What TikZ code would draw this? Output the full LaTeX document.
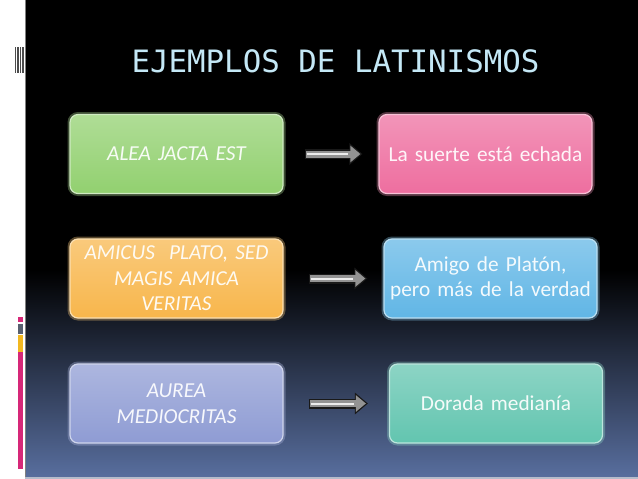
\documentclass[tikz,border=0pt]{standalone}
\usepackage{fontspec}
\setmainfont{Carlito}
\newfontfamily\monof{DejaVu Sans Mono}
\usetikzlibrary{arrows.meta}
\definecolor{cgreen}{RGB}{122,198,80}
\definecolor{cpink}{RGB}{234,78,138}
\definecolor{corange}{RGB}{246,166,36}
\definecolor{cblue}{RGB}{62,166,224}
\definecolor{cpurple}{RGB}{118,134,202}
\definecolor{cteal}{RGB}{64,184,158}
\definecolor{bgbot}{RGB}{88,110,158}
\definecolor{bgmid}{RGB}{26,34,52}
\definecolor{titlec}{RGB}{196,232,246}
\definecolor{barpink}{RGB}{214,40,120}
\definecolor{bargray}{RGB}{88,96,112}
\definecolor{baryellow}{RGB}{242,184,32}
\tikzset{
  latbox/.style={rounded corners=8pt, minimum width=213pt, minimum height=79pt,
    text width=210pt, align=center, inner sep=0pt,
    font=\fontsize{21.3}{25.5}\selectfont},
  boxcol/.style={top color=#1!60!white, middle color=#1, bottom color=#1!82!white,
    draw=#1!35!white, line width=1.2pt, text=white!94!#1,
    preaction={draw=#1!60!white, line width=5pt, opacity=0.35}},
  conn/.style 2 args={shorten <=#1, shorten >=#2},
  arrowout/.style={line width=10pt, draw=black!80!gray, -{Triangle[length=13pt,width=21pt]}},
  arrowin/.style={line width=7pt, draw=gray!85!white, -{Triangle[length=10pt,width=16pt]}},
  arrowhl/.style={line width=2pt, draw=gray!15!white},
  titlefont/.style={font=\monof\fontsize{30.8}{36}\selectfont, text=titlec}
}
\begin{document}
\begin{tikzpicture}[x=1pt,y=-1pt]
\useasboundingbox (0,0) rectangle (638,479);
% background
\fill[white] (0,0) rectangle (638,479);
\fill[black] (25,0) rectangle (638,271);
\shade[top color=black, middle color=bgmid, bottom color=bgbot] (25,270) rectangle (638,477);
\fill[black!20!bgbot!40!white] (25,477) rectangle (638,479);
\draw[gray, line width=0.8pt] (25.4,0) -- (25.4,477);
% barcode
\foreach \xx/\ww in {15.3/0.8,16.9/0.6,18.2/1.0,20.0/0.7,21.6/1.1,23.3/0.8}
  \fill[black!70] (\xx,47) rectangle (\xx+\ww,73);
% side bars
\fill[barpink] (18,317) rectangle (23,322);
\fill[bargray] (18,324) rectangle (23,333.5);
\fill[baryellow] (18,335) rectangle (23,352);
\fill[barpink] (18,352) rectangle (23,469);
% title
\node[titlefont, anchor=base] (title) at (335.5,72) {EJEMPLOS DE LATINISMOS};
% boxes
\node[latbox, boxcol=cgreen] (l1) at (176.5,154) {\itshape ALEA JACTA EST};
\node[latbox, boxcol=cpink] (r1) at (485.5,154) {La suerte está echada};
\node[latbox, boxcol=corange] (l2) at (176.5,278.5) {\itshape AMICUS\ \ PLATO, SED\\ MAGIS AMICA\\ VERITAS};
\node[latbox, boxcol=cblue] (r2) at (490.5,278.5) {Amigo de Platón,\\ pero más de la verdad};
\node[latbox, boxcol=cpurple] (l3) at (176.5,403.5) {\itshape AUREA\\ MEDIOCRITAS};
\node[latbox, boxcol=cteal] (r3) at (496,403.5) {Dorada medianía};
% arrows
\foreach \a/\b/\s/\e in {l1/r1/21/16, l2/r2/25/16, l3/r3/25/21}{
  \draw[arrowout, conn={\s pt}{\e pt}] (\a) -- (\b);
  \draw[arrowin, conn={\s pt+1.5pt}{\e pt+2pt}] (\a) -- (\b);
  \draw[arrowhl, conn={\s pt+2pt}{\e pt+14pt}] (\a) -- (\b);
}
\end{tikzpicture}
\end{document}
